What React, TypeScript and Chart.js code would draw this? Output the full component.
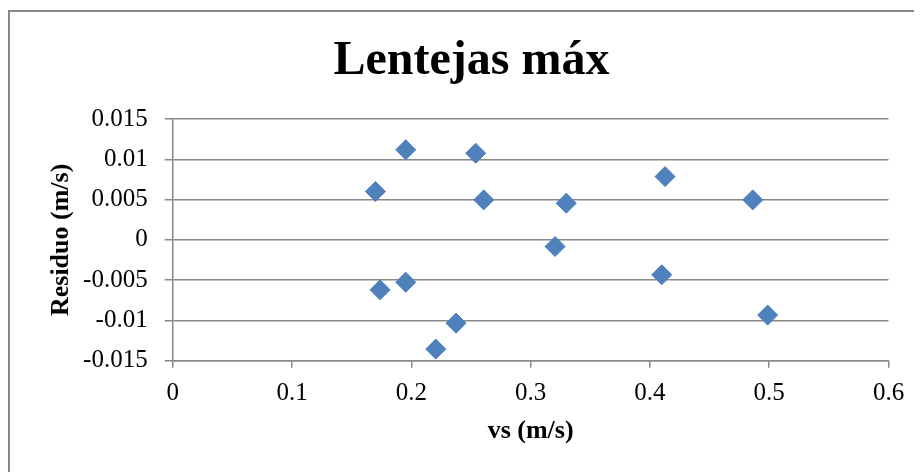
import React, { useEffect, useRef } from "react";
import { Chart, registerables } from "chart.js";

Chart.register(...registerables);

const chartTitle = "Lentejas máx";
const xAxisTitle = "vs (m/s)";
const yAxisTitle = "Residuo (m/s)";

const vsValues = [0.1953, 0.254, 0.1699, 0.2607, 0.1738, 0.1953, 0.2375, 0.2205, 0.3299, 0.3205, 0.4127, 0.4099, 0.4862, 0.4987];
const residuoValues = [0.01117, 0.01075, 0.006, 0.00496, -0.0062, -0.00525, -0.01034, -0.01356, 0.00455, -0.00083, 0.00785, -0.00434, 0.00496, -0.00934];

const xTickValues = [0, 0.1, 0.2, 0.3, 0.4, 0.5, 0.6];
const xTickLabels = ["0", "0.1", "0.2", "0.3", "0.4", "0.5", "0.6"];
const yTickValues = [-0.015, -0.01, -0.005, 0, 0.005, 0.01, 0.015];
const yTickLabels = ["-0.015", "-0.01", "-0.005", "0", "0.005", "0.01", "0.015"];

const GRID = "#878787";
const FONT = "'Liberation Serif', 'Times New Roman', serif";

const framePlugin = {
  id: "frame",
  beforeDraw(chart: any) {
    const { ctx, width, height } = chart;
    ctx.save();
    ctx.fillStyle = "#ffffff";
    ctx.fillRect(0, 0, width, height);
    ctx.fillStyle = GRID;
    ctx.fillRect(0, 2, 2, height - 2);
    ctx.fillRect(0, 2, width, 2);
    ctx.restore();
  },
  afterDraw(chart: any) {
    const { ctx } = chart;
    ctx.save();
    ctx.fillStyle = "#000";
    ctx.font = `bold 48px ${FONT}`;
    ctx.textAlign = "center";
    ctx.textBaseline = "alphabetic";
    ctx.fillText(chartTitle, 463.5, 66);
    ctx.restore();
  },
};

export default function App() {
  const ref = useRef<HTMLCanvasElement | null>(null);

  useEffect(() => {
    document.documentElement.style.overflow = "hidden";
    const canvas = ref.current;
    if (!canvas) return;
    const chart = new Chart(canvas, {
      type: "scatter",
      data: {
        datasets: [
          {
            label: yAxisTitle,
            data: vsValues.map((x, i) => ({ x, y: residuoValues[i] })),
            pointStyle: "rectRot",
            pointRadius: 10,
            pointHoverRadius: 10,
            backgroundColor: "#4F81BD",
            borderColor: "#4A7EBB",
            borderWidth: 1,
          },
        ],
      },
      options: {
        responsive: false,
        animation: false,
        devicePixelRatio: 1,
        layout: { padding: { left: 0, right: 33.5, top: 111, bottom: 0 } },
        plugins: {
          legend: { display: false },
          tooltip: { enabled: false },
          title: { display: false },
        },
        scales: {
          x: {
            type: "linear",
            min: 0,
            max: 0.6,
            afterBuildTicks: (scale: any) => {
              scale.ticks = xTickValues.map((v) => ({ value: v }));
            },
            afterFit: (scale: any) => {
              scale.height = 111.3;
            },
            ticks: {
              autoSkip: false,
              maxRotation: 0,
              color: "#000",
              padding: 11,
              font: { family: FONT, size: 25, lineHeight: 1.2 },
              callback: (_v: any, i: number) => xTickLabels[i],
            },
            grid: {
              drawOnChartArea: false,
              drawTicks: true,
              tickLength: 7,
              color: GRID,
              lineWidth: 1.5,
            },
            border: { display: true, color: GRID, width: 1.5 },
            title: {
              display: true,
              text: xAxisTitle,
              color: "#000",
              font: { family: FONT, size: 26, weight: "bold", lineHeight: 1.2 },
              padding: { top: 0, bottom: 24.7 },
            },
          },
          y: {
            type: "linear",
            min: -0.015,
            max: 0.015,
            afterBuildTicks: (scale: any) => {
              scale.ticks = yTickValues.map((v) => ({ value: v }));
            },
            afterFit: (scale: any) => {
              scale.width = 164.7;
            },
            ticks: {
              autoSkip: false,
              color: "#000",
              padding: 17,
              font: { family: FONT, size: 25, lineHeight: 1.2 },
              callback: (_v: any, i: number) => yTickLabels[i],
            },
            grid: {
              drawOnChartArea: true,
              drawTicks: true,
              tickLength: 8,
              color: GRID,
              lineWidth: 1.5,
            },
            border: { display: true, color: GRID, width: 1.5 },
            title: {
              display: true,
              text: yAxisTitle,
              color: "#000",
              font: { family: FONT, size: 26, weight: "bold", lineHeight: 1.2 },
              padding: { top: 37.4, bottom: 0 },
            },
          },
        },
      },
      plugins: [framePlugin],
    } as any);
    return () => chart.destroy();
  }, []);

  return (
    <div style={{ width: 914, height: 464 }}>
      <canvas ref={ref} width={914} height={464} style={{ display: "block", width: 914, height: 464 }} />
    </div>
  );
}
